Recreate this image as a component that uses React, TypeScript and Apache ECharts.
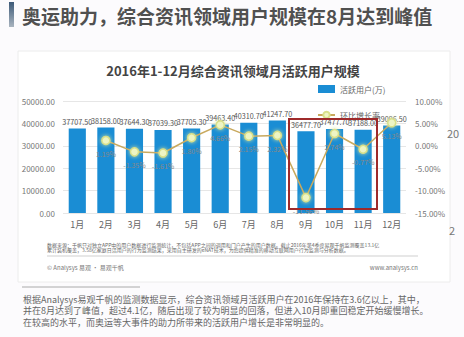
import React, { useEffect, useRef } from "react";
import * as echarts from "echarts";

const months = ["1月", "2月", "3月", "4月", "5月", "6月", "7月", "8月", "9月", "10月", "11月", "12月"];
const activeUsers = [37707.5, 38158.0, 37644.3, 37039.3, 37705.3, 39463.4, 40310.7, 41247.7, 36477.7, 37477.7, 37188.0, 39096.5];
const growthRate: (number | null)[] = [null, 1.19, -1.35, -1.61, 1.8, 4.66, 2.15, 2.32, -11.56, 2.74, -0.77, 5.13];
const leftTicks = { min: 0, max: 50000, interval: 10000 };
const rightTicks = { min: -15, max: 10, interval: 5 };

const mainTitle = "奥运助力，综合资讯领域用户规模在8月达到峰值";
const chartTitle = "2016年1-12月综合资讯领域月活跃用户规模";
const seriesNames = ["活跃用户(万)", "环比增长率"];
const sourceLines = [
  "数据来源：千帆只对独立APP中的用户数据进行监测统计，不包括APP之间的调用和门户产生的用户数据。截止2016年第4季度易观千帆监测覆盖13.1亿",
  "累计装机覆盖，3.58亿家庭日活用户的行为监测结果，采用自主研发的eNAT技术，为您提供精准的移动互联网用户行为监测与分析数据。",
];
const footerLeft = "© Analysys 易观 · 易观千帆";
const footerRight = "www.analysys.cn";
const paragraph = [
  "根据Analysys易观千帆的监测数据显示，综合资讯领域月活跃用户在2016年保持在3.6亿以上，其中，",
  "并在8月达到了峰值，超过4.1亿，随后出现了较为明显的回落，但进入10月即重回稳定开始缓慢增长。",
  "在较高的水平，而奥运等大事件的助力所带来的活跃用户增长是非常明显的。",
];

export default function App() {
  const ref = useRef<HTMLDivElement>(null);
  useEffect(() => {
    if (!ref.current) return;
    const chart = echarts.init(ref.current, undefined, { renderer: "svg" });
    const font = "'Noto Sans CJK SC', 'Noto Sans', sans-serif";
    chart.setOption({
      animation: false,
      backgroundColor: "#fcfbfd",
      textStyle: { fontFamily: font },
      legend: {
        left: 312,
        top: 80,
        itemWidth: 17,
        itemHeight: 8,
        itemGap: 18,
        textStyle: { fontSize: 8, color: "#666" },
        data: [
          { name: seriesNames[0], icon: "rect" },
          { name: seriesNames[1] },
        ],
      },
      grid: { left: 63, right: 58, top: 101, bottom: 124 },
      xAxis: {
        type: "category",
        data: months,
        axisLine: { show: false },
        axisTick: { show: false },
        axisLabel: { color: "#666", fontSize: 9, margin: 7 },
      },
      yAxis: [
        {
          type: "value",
          ...leftTicks,
          axisLabel: { color: "#777", fontSize: 8, margin: 8, formatter: (v: number) => v.toFixed(2) },
          splitLine: { lineStyle: { color: "#e6e6e6" } },
          axisLine: { show: false },
          axisTick: { show: false },
        },
        {
          type: "value",
          ...rightTicks,
          axisLabel: { color: "#777", fontSize: 8, margin: 9, formatter: (v: number) => v.toFixed(2) + "%" },
          splitLine: { show: false },
          axisLine: { show: false },
          axisTick: { show: false },
        },
      ],
      series: [
        {
          name: seriesNames[0],
          type: "bar",
          data: activeUsers,
          barWidth: "60%",
          itemStyle: { color: "#1a8dd4" },
          label: {
            show: true,
            position: "top",
            distance: 3,
            fontSize: 7.2,
            color: "#555",
            formatter: (p: any) => Number(p.value).toFixed(2),
          },
        },
        {
          name: seriesNames[1],
          type: "line",
          yAxisIndex: 1,
          data: growthRate,
          symbol: "circle",
          symbolSize: 8,
          lineStyle: { color: "#c8a95e", width: 1.5 },
          itemStyle: {
            color: "#eef5c4",
            borderColor: "#d9e08a",
            borderWidth: 1.5,
            shadowColor: "#dfe69a",
            shadowBlur: 4,
          },
          label: {
            show: true,
            position: "bottom",
            distance: 5,
            fontSize: 7,
            color: "#888",
            formatter: (p: any) => (p.value == null ? "" : Number(p.value).toFixed(2) + "%"),
          },
          z: 5,
        },
      ],
      graphic: [
        {
          type: "rect",
          shape: { x: 9, y: 2, width: 5, height: 25 },
          style: {
            fill: new echarts.graphic.LinearGradient(0, 0, 0, 1, [
              { offset: 0, color: "#3d5a78" },
              { offset: 1, color: "#a9b4bf" },
            ]),
          },
        },
        {
          type: "text",
          x: 22,
          y: 15,
          style: {
            text: mainTitle,
            font: `bold 19px ${font}`,
            fill: "#505050",
            verticalAlign: "middle",
          },
        },
        {
          type: "rect",
          z: -10,
          shape: { x: 18, y: 51, width: 432, height: 231 },
          style: { fill: "#ffffff", stroke: "#ececec", lineWidth: 1 },
        },
        {
          type: "text",
          x: 233,
          y: 70,
          style: {
            text: chartTitle,
            font: `bold 13px ${font}`,
            fill: "#444",
            align: "center",
            verticalAlign: "middle",
          },
        },
        {
          type: "rect",
          shape: { x: 289, y: 119, width: 88, height: 90 },
          style: { fill: "none", stroke: "#9e2a2b", lineWidth: 2 },
          z: 10,
        },
        ...sourceLines.map((t, i) => ({
          type: "text",
          x: 47,
          y: 244 + i * 5.5,
          style: { text: t, font: `5px ${font}`, fill: "#666", verticalAlign: "middle" },
        })),
        {
          type: "line",
          shape: { x1: 47, y1: 256, x2: 418, y2: 256 },
          style: { stroke: "#cfcfcf", lineWidth: 1 },
        },
        {
          type: "text",
          x: 47,
          y: 267,
          style: { text: footerLeft, font: `6px ${font}`, fill: "#777", verticalAlign: "middle" },
        },
        {
          type: "text",
          x: 418,
          y: 267,
          style: { text: footerRight, font: `6px ${font}`, fill: "#777", align: "right", verticalAlign: "middle" },
        },
        {
          type: "line",
          shape: { x1: 22, y1: 287, x2: 140, y2: 287 },
          style: { stroke: "#aaa", lineWidth: 1 },
        },
        ...paragraph.map((t, i) => ({
          type: "text",
          x: 23,
          y: 299 + i * 11.8,
          style: { text: t, font: `9px ${font}`, fill: "#666", verticalAlign: "middle" },
        })),
        {
          type: "text",
          x: 447,
          y: 133,
          style: { text: "20", font: `11px ${font}`, fill: "#777", verticalAlign: "middle" },
        },
        {
          type: "text",
          x: 449,
          y: 230,
          style: { text: "2", font: `11px ${font}`, fill: "#777", verticalAlign: "middle" },
        },
      ],
    });
    return () => chart.dispose();
  }, []);
  return (
    <div
      ref={ref}
      style={{ position: "fixed", left: 0, top: 0, width: 464, height: 337 }}
    />
  );
}
